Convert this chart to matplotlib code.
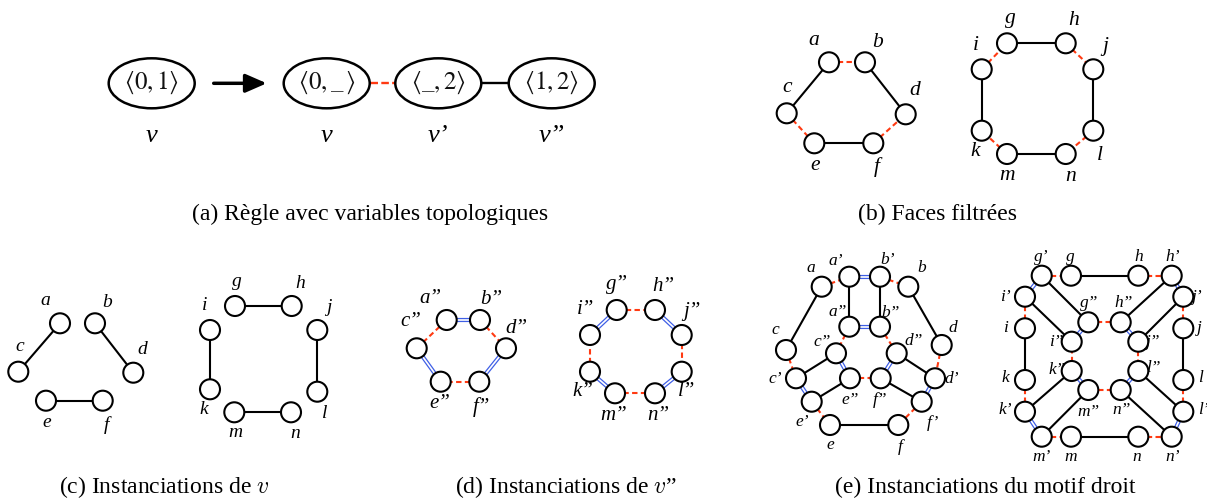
import matplotlib
matplotlib.use('Agg')
import matplotlib.pyplot as plt
from matplotlib.patches import Ellipse, Circle

# ---------------- data ----------------
# (a) rule
rule_texts = [r'$\langle 0,1\rangle$', r'$\langle 0,\_\,\rangle$', r'$\langle \_,2\rangle$', r'$\langle 1,2\rangle$']
rule_names = ['v', 'v', 'v’', 'v”']
rule_x = [151.7, 326.7, 438.3, 551.7]
rule_y = [83.3, 83.3, 83.3, 83.3]
rule_edges = [(1, 2, 'r'), (2, 3, 'k')]

# (b) filtered faces
b_hex_names = ['a', 'b', 'c', 'd', 'e', 'f']
b_hex_x = [829, 865, 786.7, 905.7, 814.3, 873.3]
b_hex_y = [62.3, 62.3, 113.3, 114.3, 143.3, 143.3]
b_hex_lx = [813.3, 877.3, 787.3, 915, 815, 876.7]
b_hex_ly = [40, 42.3, 87.3, 90, 165.7, 166.7]
b_hex_edges = [('a', 'b', 'r'), ('b', 'd', 'k'), ('a', 'c', 'k'), ('c', 'e', 'r'), ('e', 'f', 'k'), ('f', 'd', 'r')]

b_oct_names = ['g', 'h', 'i', 'j', 'k', 'l', 'm', 'n']
b_oct_x = [1007, 1065.7, 981.7, 1093.3, 981.7, 1093.3, 1007, 1065.7]
b_oct_y = [43.3, 43.3, 69.3, 69.3, 130.7, 130.7, 154, 154]
b_oct_lx = [1010, 1074, 976, 1105, 975, 1100, 1007.3, 1070.7]
b_oct_ly = [18.3, 20, 45, 46.7, 151.7, 155, 175.7, 176.7]
b_oct_edges = [('g', 'h', 'k'), ('h', 'j', 'r'), ('j', 'l', 'k'), ('l', 'n', 'r'),
               ('n', 'm', 'k'), ('m', 'k', 'r'), ('k', 'i', 'k'), ('i', 'g', 'r')]

# (c) instances of v
c_hex_names = ['a', 'b', 'c', 'd', 'e', 'f']
c_hex_x = [60, 95, 18.3, 133.3, 46, 102.7]
c_hex_y = [323.3, 323.3, 371.7, 372.7, 400.7, 400.7]
c_hex_lx = [45, 106.7, 19.3, 142.7, 46.7, 106]
c_hex_ly = [300.7, 302.3, 346.7, 349, 422.7, 425]
c_hex_edges = [('a', 'c', 'k'), ('b', 'd', 'k'), ('e', 'f', 'k')]

c_oct_names = ['g', 'h', 'i', 'j', 'k', 'l', 'm', 'n']
c_oct_x = [235, 291.7, 210, 317.3, 210, 317.3, 234.3, 291]
c_oct_y = [306, 306, 330, 330, 389.3, 391.7, 412.3, 412.3]
c_oct_lx = [236.7, 300, 205, 328.3, 204, 325, 235, 295]
c_oct_ly = [281.7, 283.3, 305, 307.3, 410, 413.3, 432.7, 433.3]
c_oct_edges = [('g', 'h', 'k'), ('i', 'k', 'k'), ('j', 'l', 'k'), ('m', 'n', 'k')]

# (d) instances of v"
d_hex_names = ['a”', 'b”', 'c”', 'd”', 'e”', 'f”']
d_hex_x = [446.7, 480, 416.7, 506, 440.7, 479.3]
d_hex_y = [320, 320, 348.3, 348.3, 381.7, 381.7]
d_hex_lx = [430, 491.7, 410.7, 516.7, 439.3, 481.7]
d_hex_ly = [298.3, 300, 321.7, 328.3, 403.3, 406.7]
d_hex_edges = [('a”', 'b”', 'b'), ('b”', 'd”', 'r'), ('d”', 'f”', 'b'),
               ('f”', 'e”', 'r'), ('e”', 'c”', 'b'), ('c”', 'a”', 'r')]

d_oct_names = ['g”', 'h”', 'i”', 'j”', 'k”', 'l”', 'm”', 'n”']
d_oct_x = [616.7, 655, 590, 681.7, 590, 681.7, 615, 655]
d_oct_y = [310, 310, 335, 335, 371.7, 371.7, 393.3, 393.3]
d_oct_lx = [616.7, 663.3, 586, 691.7, 583.3, 686.7, 613.3, 658.3]
d_oct_ly = [285, 286.7, 310, 311.7, 391.7, 391.7, 415, 415]
d_oct_edges = [('g”', 'h”', 'r'), ('h”', 'j”', 'b'), ('j”', 'l”', 'r'), ('l”', 'n”', 'b'),
               ('n”', 'm”', 'r'), ('m”', 'k”', 'b'), ('k”', 'i”', 'r'), ('i”', 'g”', 'b')]

# (e) instances of right-hand pattern
e_hex_names = ['a', 'a’', 'b’', 'b', 'a”', 'b”', 'c', 'd', 'c”', 'd”',
               'c’', 'd’', 'e”', 'f”', 'e’', 'f’', 'e', 'f']
e_hex_x = [821.7, 849.3, 880, 908.3, 849.3, 880, 786, 941.7, 836, 896.7,
           796, 935, 850, 880.7, 811.7, 921.7, 830, 898.3]
e_hex_y = [286.7, 276.7, 276.7, 286.7, 326.7, 326.7, 350, 345, 353.3, 353.3,
           378.3, 378.3, 378.3, 378.3, 401.7, 401.7, 425, 425]
e_hex_lx = [810.7, 836, 887.3, 921.7, 837.3, 890.7, 775, 953.3, 821.7, 913.3,
            775, 951.7, 850, 880, 802.7, 933.3, 830, 900]
e_hex_ly = [268.3, 261, 260, 268.3, 312.3, 313.3, 330, 328.3, 342.3, 341,
            379, 379, 400, 400, 421.7, 423.3, 445, 446.7]
e_hex_edges = [('a', 'a’', 'r'), ('a’', 'b’', 'b'), ('b’', 'b', 'r'), ('a’', 'a”', 'k'),
               ('b’', 'b”', 'k'), ('a”', 'b”', 'b'), ('a', 'c', 'k'), ('b', 'd', 'k'),
               ('c', 'c’', 'r'), ('d', 'd’', 'r'), ('a”', 'c”', 'r'), ('b”', 'd”', 'r'),
               ('c”', 'c’', 'k'), ('d”', 'd’', 'k'), ('c”', 'e”', 'b'), ('d”', 'f”', 'b'),
               ('e”', 'f”', 'r'), ('c’', 'e’', 'b'), ('d’', 'f’', 'b'), ('e’', 'e”', 'k'),
               ('f’', 'f”', 'k'), ('e’', 'e', 'r'), ('f’', 'f', 'r'), ('e', 'f', 'k')]

e_oct_names = ['g’', 'g', 'h', 'h’', 'i’', 'j’', 'i', 'j', 'g”', 'h”', 'i”', 'j”',
               'k”', 'l”', 'm”', 'n”', 'k', 'l', 'k’', 'l’', 'm’', 'm', 'n', 'n’']
e_oct_x = [1041.7, 1071, 1138.3, 1171.7, 1025, 1183.3, 1025, 1183.3, 1088.3, 1120.7, 1071.7, 1138.3,
           1071.7, 1138.3, 1088.3, 1120.7, 1025, 1183.3, 1025, 1183.3, 1041.7, 1071, 1138.3, 1171.7]
e_oct_y = [275.7, 275.7, 275.7, 275.7, 296.7, 296.7, 328.3, 328.3, 322.3, 322.3, 341.7, 341.7,
           371, 371, 390, 390, 380, 380, 411.7, 411.7, 436.7, 436.7, 436.7, 436.7]
e_oct_lx = [1041.7, 1070.7, 1138.3, 1172.7, 1005, 1197.5, 1005, 1199, 1089, 1123.3, 1056, 1153.3,
            1056.7, 1153.3, 1088.3, 1121.7, 1005, 1200.7, 1005, 1203, 1041.7, 1071, 1136.7, 1172.7]
e_oct_ly = [256.7, 256.7, 256.7, 256.7, 296.7, 296.7, 328.3, 328.3, 303.3, 303.3, 341.7, 341.7,
            370, 368.3, 411.7, 410, 378.3, 378.3, 410, 410, 456.7, 456.7, 456.7, 456.7]
e_oct_edges = [('g’', 'g', 'r'), ('g', 'h', 'k'), ('h', 'h’', 'r'), ('g’', 'i’', 'b'), ('h’', 'j’', 'b'),
               ('i’', 'i', 'r'), ('j’', 'j', 'r'), ('i', 'k', 'k'), ('j', 'l', 'k'), ('k', 'k’', 'r'),
               ('l', 'l’', 'r'), ('k’', 'm’', 'b'), ('l’', 'n’', 'b'), ('m’', 'm', 'r'), ('m', 'n', 'k'),
               ('n', 'n’', 'r'), ('g’', 'g”', 'k'), ('i’', 'i”', 'k'), ('h’', 'h”', 'k'), ('j’', 'j”', 'k'),
               ('k’', 'k”', 'k'), ('m’', 'm”', 'k'), ('l’', 'l”', 'k'), ('n’', 'n”', 'k'),
               ('g”', 'h”', 'r'), ('h”', 'j”', 'b'), ('j”', 'l”', 'r'), ('l”', 'n”', 'b'),
               ('n”', 'm”', 'r'), ('m”', 'k”', 'b'), ('k”', 'i”', 'r'), ('i”', 'g”', 'b')]

captions = ['(a) Règle avec variables topologiques', '(b) Faces filtrées',
            r'(c) Instanciations de $v$', r'(d) Instanciations de $v$”',
            '(e) Instanciations du motif droit']
caption_x = [370.5, 937, 164.5, 566, 985]
caption_y = [214, 214, 487, 487, 487]

# ---------------- drawing ----------------
W, H = 1207, 503
fig = plt.figure(figsize=(W / 100, H / 100), dpi=100)
ax = fig.add_axes([0, 0, 1, 1])
ax.set_xlim(0, W)
ax.set_ylim(H, 0)
ax.axis('off')

RED = '#ff3a12'
BLUE = '#3f5fe6'
SERIF = 'Liberation Serif'


def edge(x1, y1, x2, y2, kind, lw=1.5, dash=(2.6, 1.6)):
    if kind == 'k':
        ax.plot([x1, x2], [y1, y2], color='black', lw=lw, solid_capstyle='butt', zorder=1)
    elif kind == 'r':
        ax.plot([x1, x2], [y1, y2], color=RED, lw=lw, dashes=dash,
                dash_capstyle='butt', zorder=1)
    else:
        ax.plot([x1, x2], [y1, y2], color=BLUE, lw=3.0, solid_capstyle='butt', zorder=1)
        ax.plot([x1, x2], [y1, y2], color='white', lw=1.2, solid_capstyle='butt', zorder=1.1)


def graph(names, xs, ys, lxs, lys, edges, fs, r=10):
    pos = {n: (x, y) for n, x, y in zip(names, xs, ys)}
    for u, v, k in edges:
        edge(pos[u][0], pos[u][1], pos[v][0], pos[v][1], k)
    for n, x, y, lx, ly in zip(names, xs, ys, lxs, lys):
        ax.add_patch(Circle((x, y), r, facecolor='white', edgecolor='black', lw=1.5, zorder=3))
        ax.text(lx, ly, n, fontsize=fs, family=SERIF, style='italic',
                ha='center', va='center', zorder=4)


# (a)
for i, (u, v, k) in enumerate(rule_edges):
    edge(rule_x[u], rule_y[u], rule_x[v], rule_y[v], k, lw=1.7, dash=(3.2, 1.4))
for t, n, x, y in zip(rule_texts, rule_names, rule_x, rule_y):
    ax.add_patch(Ellipse((x, y), 86, 50, facecolor='white', edgecolor='black', lw=1.8, zorder=3))
    ax.text(x, y, t, fontsize=18, ha='center', va='center', zorder=4,
            math_fontfamily='stix', color='#111111')
    ax.text(x, y + 53, n, fontsize=19, family=SERIF, style='italic',
            ha='center', va='center')
ax.annotate('', xy=(rule_x[0] + 115, rule_y[0]), xytext=(rule_x[0] + 62, rule_y[0]),
            arrowprops=dict(arrowstyle='-|>,head_length=0.8,head_width=0.35',
                            lw=2.5, color='black', mutation_scale=16,
                            shrinkA=0, shrinkB=0))

graph(b_hex_names, b_hex_x, b_hex_y, b_hex_lx, b_hex_ly, b_hex_edges, 15.5)
graph(b_oct_names, b_oct_x, b_oct_y, b_oct_lx, b_oct_ly, b_oct_edges, 15.5)
graph(c_hex_names, c_hex_x, c_hex_y, c_hex_lx, c_hex_ly, c_hex_edges, 14)
graph(c_oct_names, c_oct_x, c_oct_y, c_oct_lx, c_oct_ly, c_oct_edges, 14)
graph(d_hex_names, d_hex_x, d_hex_y, d_hex_lx, d_hex_ly, d_hex_edges, 15)
graph(d_oct_names, d_oct_x, d_oct_y, d_oct_lx, d_oct_ly, d_oct_edges, 15)
graph(e_hex_names, e_hex_x, e_hex_y, e_hex_lx, e_hex_ly, e_hex_edges, 12.5)
graph(e_oct_names, e_oct_x, e_oct_y, e_oct_lx, e_oct_ly, e_oct_edges, 12.5)

for t, x, y in zip(captions, caption_x, caption_y):
    ax.text(x, y, t, fontsize=17, family=SERIF, ha='center', va='center',
            math_fontfamily='cm')

fig.savefig('out.png', dpi=100)
